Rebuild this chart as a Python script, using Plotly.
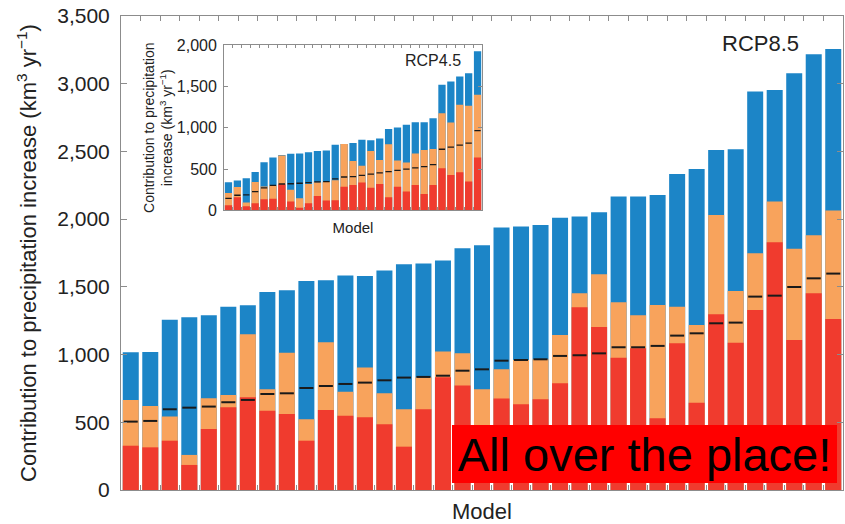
import plotly.graph_objects as go

# ---------------- Main panel (RCP8.5), 37 models ----------------
main_total = [1017, 1019, 1258, 1275, 1290, 1354, 1364, 1462, 1475, 1544, 1549, 1583, 1581,
              1620, 1667, 1672, 1694, 1785, 1807, 1938, 1945, 1957, 2011, 2019, 2050, 2167,
              2167, 2179, 2334, 2371, 2511, 2516, 2942, 2954, 3078, 3218, 3257]
main_orange_top = [665, 620, 542, 259, 677, 702, 1150, 744, 1014, 522, 1091, 726, 904,
                   714, 596, 832, 1022, 1009, 744, 891, 960, 965, 1145, 1453, 1594, 1386,
                   1290, 1366, 1354, 1219, 2031, 1470, 1748, 2130, 1782, 1881, 2063]
main_red_top = [327, 315, 364, 185, 451, 611, 684, 586, 561, 364, 591, 549, 537,
                485, 320, 596, 832, 771, 420, 675, 633, 670, 788, 1349, 1203, 977,
                1046, 529, 1083, 645, 1297, 1088, 1329, 1829, 1108, 1453, 1263]
main_black = [505, 510, 596, 608, 616, 648, 665, 709, 714, 753, 768, 783, 793,
              810, 830, 835, 844, 881, 891, 955, 960, 965, 990, 995, 1009, 1054,
              1054, 1064, 1140, 1157, 1231, 1236, 1428, 1435, 1499, 1563, 1598]

# ---------------- Inset panel (RCP4.5), 29 models ----------------
inset_total = [341, 361, 389, 466, 583, 641, 672, 686, 688, 704, 720, 724, 793, 805, 817,
               856, 850, 869, 986, 1003, 1035, 1067, 1067, 1116, 1519, 1559, 1620, 1660, 1925]
inset_orange_top = [210, 284, 97, 345, 289, 305, 664, 252, 147, 321, 341, 345, 365, 805, 597,
                    540, 718, 611, 801, 603, 579, 688, 732, 744, 1176, 1063, 1277, 1265, 1400]
inset_red_top = [62, 161, 52, 87, 137, 143, 317, 109, 34, 87, 176, 121, 123, 288, 308,
                 339, 275, 321, 159, 288, 228, 309, 200, 309, 510, 430, 462, 349, 639]
inset_black = [147, 184, 188, 228, 274, 303, 320, 323, 329, 337, 345, 349, 381, 405, 410,
               425, 440, 455, 470, 485, 500, 515, 530, 555, 740, 765, 790, 815, 965]

main_yticks = [0, 500, 1000, 1500, 2000, 2500, 3000, 3500]
main_yticklabels = ["0", "500", "1,000", "1,500", "2,000", "2,500", "3,000", "3,500"]
inset_yticks = [0, 500, 1000, 1500, 2000]
inset_yticklabels = ["0", "500", "1,000", "1,500", "2,000"]

BLUE = "#1c85c7"
ORANGE = "#f8a35c"
RED = "#f03b2e"
FONT = "Liberation Sans, Arial, sans-serif"
TXT = "#222222"
FRAME = "#8c8c8c"

mx = list(range(len(main_total)))
ix = list(range(len(inset_total)))

fig = go.Figure()
for vals, col in [(main_total, BLUE), (main_orange_top, ORANGE), (main_red_top, RED)]:
    fig.add_trace(go.Bar(x=mx, y=vals, marker=dict(color=col, line=dict(width=0)),
                         xaxis="x", yaxis="y", showlegend=False))
fig.add_trace(go.Scatter(x=mx, y=main_black, mode="markers", xaxis="x", yaxis="y",
                         marker=dict(symbol="line-ew", size=10,
                                     line=dict(width=2, color="#1a1a1a")),
                         showlegend=False))
for vals, col in [(inset_total, BLUE), (inset_orange_top, ORANGE), (inset_red_top, RED)]:
    fig.add_trace(go.Bar(x=ix, y=vals, marker=dict(color=col, line=dict(width=0)),
                         xaxis="x2", yaxis="y2", showlegend=False))
fig.add_trace(go.Scatter(x=ix, y=inset_black, mode="markers", xaxis="x2", yaxis="y2",
                         marker=dict(symbol="line-ew", size=4.5,
                                     line=dict(width=1.3, color="#1a1a1a")),
                         showlegend=False))

fig.update_layout(
    width=845, height=524,
    margin=dict(l=121, r=2, t=16, b=34),
    paper_bgcolor="white", plot_bgcolor="white",
    barmode="overlay", bargap=0.18,
    font=dict(family=FONT, color=TXT),
    xaxis=dict(domain=[0, 1], range=[-0.5, len(main_total) - 0.5],
               tickvals=[k + 0.5 for k in range(len(main_total) - 1)],
               showticklabels=False, ticks="inside", ticklen=5, tickcolor=FRAME,
               showline=True, linecolor=FRAME, linewidth=1, mirror="ticks",
               showgrid=False, zeroline=False,
               title=dict(text="Model", font=dict(size=22, color=TXT), standoff=15)),
    yaxis=dict(domain=[0, 1], range=[0, 3500], tickvals=main_yticks,
               ticktext=main_yticklabels, ticks="inside", ticklen=6, tickcolor=FRAME,
               tickfont=dict(size=21, color=TXT), ticklabelstandoff=6,
               showline=True, linecolor=FRAME, linewidth=1, mirror="ticks",
               showgrid=False, zeroline=False,
               title=dict(text="Contribution to precipitation increase (km<sup>3</sup> yr<sup>−1</sup>)",
                          font=dict(size=22, color=TXT), standoff=14)),
    xaxis2=dict(domain=[0.1427, 0.5], anchor="y2", range=[-0.5, len(inset_total) - 0.5],
                tickvals=[k + 0.5 for k in range(len(inset_total) - 1)],
                showticklabels=False, ticks="inside", ticklen=3, tickcolor=FRAME,
                showline=True, linecolor=FRAME, linewidth=1, mirror="ticks",
                showgrid=False, zeroline=False,
                title=dict(text="Model", font=dict(size=15, color=TXT), standoff=12)),
    yaxis2=dict(domain=[0.5897, 0.9388], anchor="x2", range=[0, 2000],
                tickvals=inset_yticks, ticktext=inset_yticklabels,
                ticks="inside", ticklen=4, tickcolor=FRAME,
                tickfont=dict(size=16, color=TXT), ticklabelstandoff=3,
                showline=True, linecolor=FRAME, linewidth=1, mirror="ticks",
                showgrid=False, zeroline=False,
                title=dict(text="Contribution to precipitation<br>increase (km<sup>3</sup> yr<sup>−1</sup>)",
                           font=dict(size=14, color=TXT), standoff=0)),
    annotations=[
        dict(text="RCP8.5", xref="paper", yref="paper", x=0.886, y=0.943,
             showarrow=False, font=dict(size=22, color=TXT), xanchor="center", yanchor="middle"),
        dict(text="RCP4.5", xref="paper", yref="paper", x=0.432, y=0.907,
             showarrow=False, font=dict(size=16, color=TXT), xanchor="center", yanchor="middle"),
        dict(text="All over the place!", xref="paper", yref="paper", x=0.725, y=0.076,
             showarrow=False, font=dict(size=47, color="black", family=FONT),
             bgcolor="#ff0000", width=385, height=58, borderpad=0, borderwidth=0,
             xanchor="center", yanchor="middle", align="center", valign="middle"),
    ],
)

fig.write_html("out.html", config={"displayModeBar": False},
               post_script="document.body.style.margin='0';document.body.style.padding='0';")
